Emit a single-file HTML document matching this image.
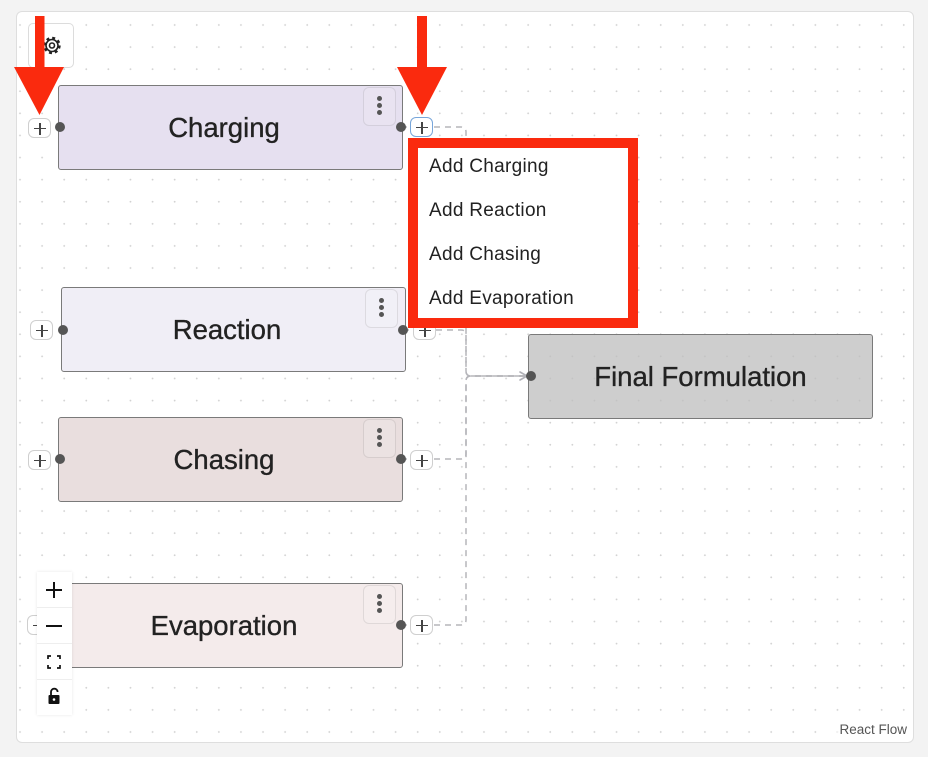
<!DOCTYPE html>
<html><head><meta charset="utf-8">
<style>
html,body{margin:0;padding:0;}
body{width:928px;height:757px;background:#f3f3f3;position:relative;overflow:hidden;font-family:"Liberation Sans",Arial,sans-serif;}
.panel{position:absolute;left:16px;top:11px;width:896px;height:730px;border:1px solid #dedede;border-radius:6px;
background-color:#fff;background-image:radial-gradient(circle,#d2d2d2 0.8px,transparent 1.1px);background-size:22.1px 22.1px;background-position:-8.05px 1.95px;}
.node{position:absolute;box-sizing:border-box;border:1.3px solid #7a7a7a;border-radius:3px;display:flex;align-items:center;justify-content:center;
font-size:27.5px;color:#222;padding-right:13px;-webkit-text-stroke:0.35px #222;}
.menu-btn{position:absolute;width:33px;height:39px;box-sizing:border-box;border:1px solid rgba(0,0,0,0.09);border-radius:6px;background:rgba(255,255,255,0.12);}
.menu-btn i{position:absolute;left:13px;width:5px;height:5px;border-radius:50%;background:#555;}
.handle{position:absolute;width:10px;height:10px;border-radius:50%;background:#555;}
.plus{position:absolute;width:23px;height:20px;box-sizing:border-box;border:1px solid #cfcfcf;border-radius:6px;background:#fff;}
.plus:before{content:"";position:absolute;left:5px;top:9px;width:12px;height:1.2px;background:#444;}
.plus:after{content:"";position:absolute;left:10.4px;top:3.5px;width:1.2px;height:12px;background:#444;}
.menu{position:absolute;left:408px;top:138px;width:230px;height:190px;box-sizing:border-box;border:10px solid #fa2a0e;background:#fff;}
.menu div{position:absolute;left:11px;font-size:19px;color:#222;letter-spacing:0.3px;line-height:22px;}
.ctrl{position:absolute;left:37px;top:572px;width:35px;height:143px;background:#fff;box-shadow:0 0 3px rgba(0,0,0,0.1);}
.ctrl div{height:35px;border-bottom:1px solid #eee;position:relative;}
</style></head>
<body>
<div class="panel"></div>

<!-- gear button -->
<div style="position:absolute;left:28px;top:23px;width:46px;height:45px;box-sizing:border-box;border:1px solid #dcdcdc;border-radius:5px;background:#fff;"></div>
<svg style="position:absolute;left:0;top:0" width="928" height="757">
  <circle cx="52" cy="45.5" r="7.2" fill="none" stroke="#222" stroke-width="3" stroke-dasharray="2.8 2.85"/>
  <circle cx="52" cy="45.5" r="6" fill="#fff" stroke="#222" stroke-width="1.6"/>
  <circle cx="52" cy="45.5" r="2.5" fill="none" stroke="#222" stroke-width="1.6"/>
</svg>

<!-- edges -->
<svg style="position:absolute;left:0;top:0" width="928" height="757">
  <defs>
    <marker id="arr" markerWidth="12" markerHeight="12" refX="10" refY="6" orient="auto" markerUnits="userSpaceOnUse">
      <polyline points="3,2 10,6 3,10" fill="none" stroke="#b1b1b7" stroke-width="1.6" stroke-linecap="round" stroke-linejoin="round"/>
    </marker>
  </defs>
  <g fill="none" stroke="#b5b5ba" stroke-width="1.5" stroke-dasharray="6 5">
    <path d="M401,127 L461,127 Q466,127 466,132 L466,371 Q466,376 471,376 L527,376" marker-end="url(#arr)"/>
    <path d="M403,330 L461,330 Q466,330 466,335 L466,371 Q466,376 471,376 L527,376"/>
    <path d="M401,459 L461,459 Q466,459 466,454 L466,381 Q466,376 471,376 L527,376"/>
    <path d="M401,625 L461,625 Q466,625 466,620 L466,381 Q466,376 471,376 L527,376"/>
  </g>
</svg>

<!-- nodes -->
<div class="node" style="left:58px;top:85px;width:345px;height:85px;background:#e6e0f0;">Charging</div>
<div class="menu-btn" style="left:363px;top:87px;"><i style="top:8px"></i><i style="top:15px"></i><i style="top:22px"></i></div>

<div class="node" style="left:61px;top:287px;width:345px;height:85px;background:#f0eef6;">Reaction</div>
<div class="menu-btn" style="left:365px;top:289px;"><i style="top:8px"></i><i style="top:15px"></i><i style="top:22px"></i></div>

<div class="node" style="left:58px;top:417px;width:345px;height:85px;background:#e9dede;">Chasing</div>
<div class="menu-btn" style="left:363px;top:419px;"><i style="top:8px"></i><i style="top:15px"></i><i style="top:22px"></i></div>

<div class="node" style="left:58px;top:583px;width:345px;height:85px;background:#f4ebeb;">Evaporation</div>
<div class="menu-btn" style="left:363px;top:585px;"><i style="top:8px"></i><i style="top:15px"></i><i style="top:22px"></i></div>

<div class="node" style="left:528px;top:334px;width:345px;height:85px;background:rgba(190,190,190,0.75);padding-right:0;">Final Formulation</div>

<!-- handles and plus buttons -->
<div class="plus" style="left:28px;top:118px;"></div>
<div class="handle" style="left:55px;top:122px;"></div>
<div class="handle" style="left:396px;top:122px;"></div>
<div class="plus" style="left:410px;top:117px;border-color:#78a6da;"></div>

<div class="plus" style="left:30px;top:320px;"></div>
<div class="handle" style="left:58px;top:325px;"></div>
<div class="plus" style="left:413px;top:320px;"></div>
<div class="handle" style="left:398px;top:325px;"></div>

<div class="plus" style="left:28px;top:450px;"></div>
<div class="handle" style="left:55px;top:454px;"></div>
<div class="handle" style="left:396px;top:454px;"></div>
<div class="plus" style="left:410px;top:450px;"></div>

<div class="plus" style="left:27px;top:615px;"></div>
<div class="handle" style="left:396px;top:620px;"></div>
<div class="plus" style="left:410px;top:615px;"></div>

<div class="handle" style="left:526px;top:371px;"></div>

<!-- dropdown menu -->
<div class="menu">
  <div style="top:8px">Add Charging</div>
  <div style="top:52px">Add Reaction</div>
  <div style="top:96px">Add Chasing</div>
  <div style="top:140px">Add Evaporation</div>
</div>

<!-- controls -->
<div class="ctrl">
  <div></div><div></div><div></div><div style="border-bottom:none"></div>
</div>
<svg style="position:absolute;left:0;top:0" width="928" height="757">
  <g stroke="#111" stroke-width="2" fill="none">
    <line x1="46" y1="590" x2="62" y2="590"/>
    <line x1="54" y1="582" x2="54" y2="598"/>
    <line x1="46" y1="626" x2="62" y2="626"/>
    <path d="M48,659 L48,656 L51,656 M57,656 L60,656 L60,659 M60,665 L60,668 L57,668 M51,668 L48,668 L48,665" stroke-width="1.7"/>
    <path d="M51,696 L51,692 A3.3,3.3 0 0 1 57.6,692" stroke-width="1.8"/>
  </g>
  <rect x="48.5" y="695" width="11" height="9" rx="1" fill="#111"/>
  <circle cx="54" cy="699.5" r="1.3" fill="#fff"/>
</svg>

<!-- attribution -->
<div style="position:absolute;right:19px;top:721px;font-size:13.5px;color:#555;background:rgba(255,255,255,0.6);padding:1px 2px;">React Flow</div>

<!-- red arrows -->
<svg style="position:absolute;left:0;top:0" width="928" height="757">
  <g fill="#fa2a0e">
    <rect x="35" y="16" width="9.5" height="52"/>
    <polygon points="14,67 64,67 39.5,115"/>
    <rect x="417" y="16" width="10" height="52"/>
    <polygon points="397,67 447,67 422,115"/>
  </g>
</svg>
</body></html>
